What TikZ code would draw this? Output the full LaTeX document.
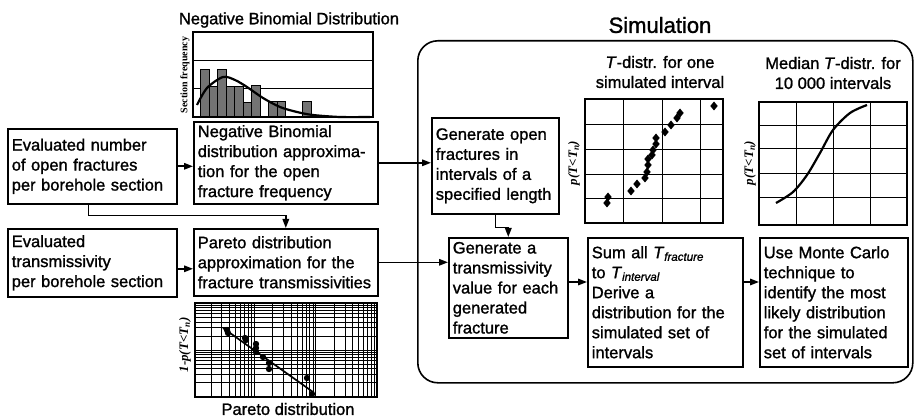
\documentclass[tikz,border=0pt]{standalone}
\usepackage{fontspec}
\setmainfont{Liberation Sans}[UprightFeatures={FakeBold=1.3}, ItalicFeatures={FakeBold=1.3}]
\newfontfamily\axisfont{Liberation Serif}
\usetikzlibrary{arrows.meta}

\begin{document}
\begin{tikzpicture}[x=1pt, y=-1pt, line width=1.6pt,
every node/.style={font=\fontsize{16.5}{20}\selectfont, inner sep=0pt},
procbox/.style={draw, align=left, anchor=north west, inner xsep=4pt, inner ysep=2pt},
arr/.style={-{Triangle[length=9pt, width=6.5pt]}},
gline/.style={line width=0.9pt},
ax/.style={font=\axisfont\bfseries\itshape\fontsize{13}{15}\selectfont, rotate=90}]
\useasboundingbox (0,0) rectangle (914,417);
\node[procbox, text width=161pt, minimum height=75pt] (ev1) at (7,128) {Evaluated number\\of open fractures\\per borehole section};
\node[procbox, text width=161pt, minimum height=68pt] (ev2) at (7,228) {Evaluated\\transmissivity\\per borehole section};
\node[procbox, text width=176pt, minimum height=82pt] (nb) at (193,121) {Negative Binomial\\distribution approxima-\\tion for the open\\fracture frequency};
\node[procbox, text width=176pt, minimum height=67pt] (par) at (193,228) {Pareto distribution\\approximation for the\\fracture transmissivities};
\node[draw, rounded corners=20pt, anchor=north west, minimum width=495pt, minimum height=342pt] (sim) at (417,40) {};
\node[font=\fontsize{22}{24}\selectfont] (simt) at (660,25) {Simulation};
\node[procbox, text width=119pt, minimum height=96pt] (g1) at (431,117) {Generate open\\fractures in\\intervals of a\\specified length};
\node[procbox, text width=111pt, minimum height=100pt] (g2) at (448,237) {Generate a\\transmissivity\\value for each\\generated\\fracture};
\node[procbox, text width=147pt, minimum height=129pt] (sum) at (587,237) {Sum all \textit{T}\textsubscript{\textit{fracture}}\\to \textit{T}\textsubscript{\textit{interval}}\\Derive a\\distribution for the\\simulated set of\\intervals};
\node[procbox, text width=140pt, minimum height=129pt] (mc) at (759,237) {Use Monte Carlo\\technique to\\identify the most\\likely distribution\\for the simulated\\set of intervals};
\foreach \i/\j in {ev1/nb, nb/g1, par/g2}{
\draw[arr] (\i.east) -- (\i.east -| \j.west);}
\draw[arr] ([yshift=-6pt]ev2.east) -- ([yshift=-6pt]ev2.east -| par.west);
\draw[arr] ([xshift=-4pt]ev1.south) -- ++(0,11) -| (par.north);
\draw[arr] (g1.south) -- ++(0,13) -| (g2.north);
\coordinate (r) at (0,282);
\foreach \i/\j in {g2/sum, sum/mc}{
\draw[arr] (\i.east |- r) -- (\j.west |- r);}
\node (t0) at (289,20) {Negative Binomial Distribution};
\foreach \y in {60,88}{
\draw[gline] (193,\y) -- (373,\y);}
\foreach \i/\h in {0/69, 1/86, 2/69, 3/86, 4/86, 5/102, 6/85, 8/101, 9/101, 12/101}{
\filldraw[fill=black!55, line width=0.7pt] ({200.7+8.5*\i},117) rectangle ({209.2+8.5*\i},\h);}
\draw (193,32) rectangle (373,117);
\draw[line width=2.2pt] plot[smooth] coordinates {(197,105) (207,88) (223,77) (235,80) (247,87) (263,98) (280,107) (297,112) (313,115) (340,117) (370,117)};
\node[font=\axisfont\bfseries\fontsize{10}{12}\selectfont, rotate=90] (sf) at (185,75) {Section frequency};
\begin{scope}
\clip (195,303) rectangle (377,397);
\foreach \d in {0,1,2}{
\foreach \m in {1,...,9}{
\draw[line width=0.7pt] ({192.3+61.7*(\d+log10(\m))},303) -- ++(0,94);}}
\foreach \d in {0,1}{
\foreach \m in {1,...,9}{
\draw[line width=0.7pt] (195,{350+46.7*(\d-log10(\m))}) -- ++(182,0);}}
\end{scope}
\draw (195,303) rectangle (377,397);
\draw[line width=1.7pt] (223,328) -- (313,392);
\foreach \x/\y in {227/330, 228/333, 245/338, 246/340, 256/344, 256/348, 256/352, 263/357, 269/363, 269/369, 307/378, 312/394}{
\fill (\x,\y) circle (3.2pt);}
\node[ax] (pp) at (185,345) {1-p(T<T\textsubscript{n})};
\node (t3) at (288,409) {Pareto distribution};
\node[align=center] (t1) at (660,72) {\textit{T}-distr. for one\\simulated interval};
\draw (585,99) rectangle (723,223);
\foreach \x in {623,662,700}{
\draw[gline] (\x,99) -- (\x,223);}
\foreach \y in {124,149,174,198}{
\draw[gline] (585,\y) -- (723,\y);}
\foreach \x/\y in {714/106, 680/113, 677/118, 671/125, 665/132, 656/138, 656/144, 653/150, 652/155, 648/159, 648/165, 647/172, 645/178, 637/184, 631/191, 608/197, 607/203}{
\fill (\x,\y) +(0,-4.5) -- +(3.7,0) -- +(0,4.5) -- +(-3.7,0) -- cycle;}
\node[ax] (p1) at (574,163) {p(T<T\textsubscript{n})};
\node[align=center] (t2) at (833,73) {Median \textit{T}-distr. for\\10~000 intervals};
\draw (759,102) rectangle (907,225);
\foreach \x in {796,833,870}{
\draw[gline] (\x,102) -- (\x,225);}
\foreach \y in {125,148,173,197}{
\draw[gline] (759,\y) -- (907,\y);}
\draw[line width=2.2pt] plot[smooth] coordinates {(776,203) (793,192) (807,175) (820,153) (833,130) (850,113) (867,105)};
\node[ax] (p2) at (750,163) {p(T<T\textsubscript{n})};
\end{tikzpicture}
\end{document}
